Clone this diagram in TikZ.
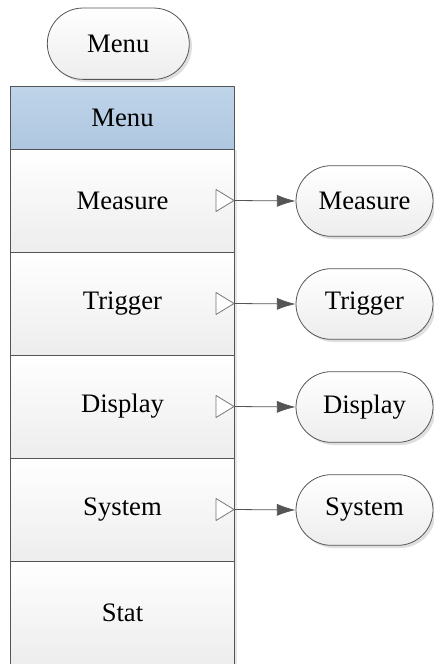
\documentclass[tikz,border=0pt]{standalone}
\usepackage{fontspec}
\setmainfont{Liberation Serif}
\usetikzlibrary{arrows.meta,shadows,shapes.misc}
\definecolor{edge}{HTML}{555555}
\definecolor{headtop}{HTML}{BFD4E9}
\definecolor{headbot}{HTML}{AEC7E0}
\definecolor{rowbot}{HTML}{EDEDED}
\tikzset{
  term/.style={rounded rectangle,draw=edge,line width=0.6pt,top color=white,bottom color=rowbot,
    drop shadow={shadow xshift=2pt,shadow yshift=-2pt,opacity=0.25},inner sep=0pt},
  headbox/.style={rectangle,draw=edge,line width=0.6pt,top color=headtop,bottom color=headbot,
    minimum width=167.7pt,minimum height=46.8pt,inner sep=0pt},
  rowbox/.style={rectangle,draw=edge,line width=0.6pt,top color=white,bottom color=rowbot,
    drop shadow={shadow xshift=2pt,shadow yshift=-1pt,opacity=0.2},
    minimum width=167.7pt,minimum height=77.25pt,inner sep=0pt},
  link/.style={draw=edge,line width=0.6pt,-{Latex[length=14pt,width=9pt]}},
  pointer/.style={draw=edge!80,line width=0.6pt,fill=white}
}
\begin{document}
\begin{tikzpicture}[x=0.75pt,y=-0.75pt,line join=round,font=\fontsize{20}{24}\selectfont]
  \useasboundingbox (0,0) rectangle (434,664);
  \node[term,minimum width=106.5pt,minimum height=53.5pt] (top) at (118.3,43.7) {Menu};
  \node[headbox] (head) at (122.5,117.9) {Menu};
  \node[rowbox] (stat) at (122.5,612.5) {Stat};
  \foreach \lbl [count=\i] in {Measure,Trigger,Display,System}{
    \node[rowbox] (row\i) at (122.5,97.5+103*\i) {\lbl};
    \node[term,minimum width=102.75pt,minimum height=53pt] (sub\i) at (364.5,98+103*\i) {\lbl};
    \draw[pointer] ([xshift=-0.5pt]row\i.east) -- ++(-18,-11) -- ++(0,22) -- cycle;
    \draw[link] (row\i.east) -- (sub\i.west);
  }
\end{tikzpicture}
\end{document}
